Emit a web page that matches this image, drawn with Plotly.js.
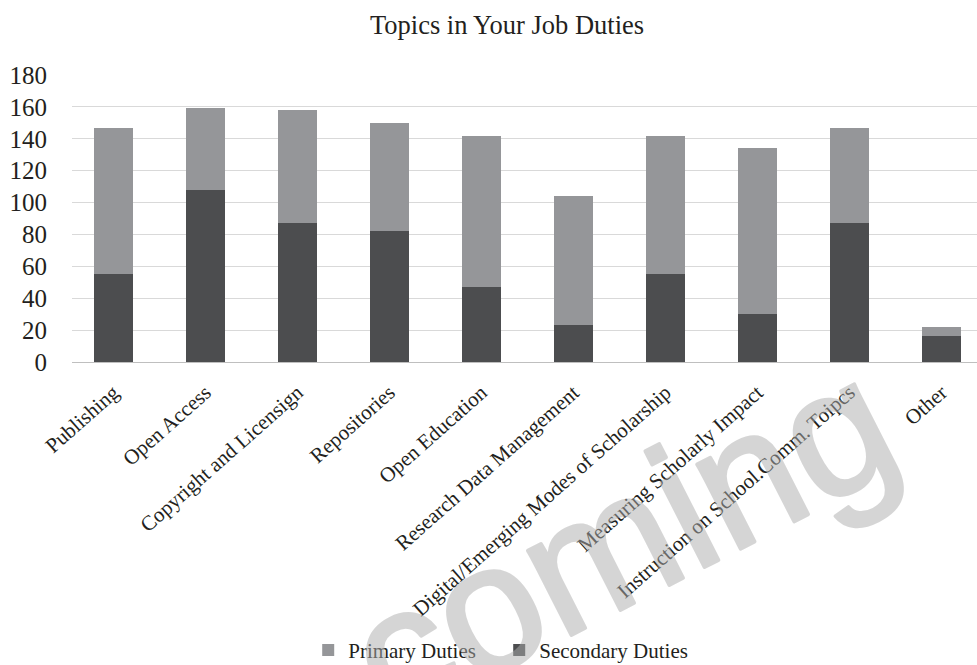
<!DOCTYPE html>
<html>
<head>
<meta charset="utf-8">
<script src="https://cdn.plot.ly/plotly-3.0.1.min.js"></script>
<style>
html,body{margin:0;padding:0;background:#fff;overflow:hidden}
#chart{width:977px;height:665px}
#chart g.annotation text{stroke:#adadad;stroke-width:3.5px;stroke-linejoin:round}
</style>
</head>
<body>
<div id="chart"></div>
<script>
const categories = ["Publishing","Open Access","Copyright and Licensign","Repositories","Open Education","Research Data Management","Digital/Emerging Modes of Scholarship","Measuring Scholarly Impact","Instruction on School.Comm. Toipcs","Other"];
const secondaryDuties = [55,108,87,82,47,23,55,30,87,16];
const primaryDuties = [92,51,71,68,95,81,87,104,60,6];
const yTicks = [0,20,40,60,80,100,120,140,160,180];
const chartTitle = "Topics in Your Job Duties";
const watermarkText = "coming";

const serif = "Liberation Serif, Times New Roman, serif";
const textColor = "#231f20";

const data = [
  {type:"bar", name:"Secondary Duties", x:categories, y:secondaryDuties, marker:{color:"#4c4d4f"}, hoverinfo:"skip"},
  {type:"bar", name:"Primary Duties", x:categories, y:primaryDuties, marker:{color:"#959699"}, hoverinfo:"skip"}
];

const layout = {
  width:977, height:665,
  margin:{l:72, r:0, t:75, b:302.7, pad:0, autoexpand:false},
  paper_bgcolor:"#fff", plot_bgcolor:"#fff",
  barmode:"stack", bargap:0.576,
  font:{family:serif, color:textColor},
  title:{text:chartTitle, font:{family:serif, size:26.5, color:textColor}, x:0.519, xanchor:"center", y:0.963, yanchor:"middle"},
  xaxis:{type:"category", range:[-0.451, 9.386], tickangle:-41.5, tickfont:{family:serif, size:21, color:textColor},
         showgrid:false, showline:true, linecolor:"#bfbfbf", linewidth:1, ticks:"", ticklabelstandoff:9, fixedrange:true},
  yaxis:{range:[0,180], tickvals:yTicks, ticktext:yTicks.map(String), tickfont:{family:serif, size:25, color:textColor},
         showgrid:true, gridcolor:"#d9d9d9", gridwidth:1, zeroline:false, showline:false, ticks:"", ticklabelstandoff:24, fixedrange:true},
  showlegend:true,
  legend:{orientation:"h", traceorder:"reversed", x:0.261, xanchor:"left", yref:"container", y:0.022, yanchor:"middle",
          font:{family:serif, size:21, color:textColor}, itemwidth:30, entrywidth:146, entrywidthmode:"pixels", bgcolor:"rgba(0,0,0,0)"},
  annotations:[{text:watermarkText, xref:"paper", yref:"paper", x:0.607, y:-0.62, xanchor:"center", yanchor:"middle",
                showarrow:false, textangle:-27, opacity:0.5, font:{family:"Liberation Sans, Arial, sans-serif", size:180, color:"#adadad"}}]
};

Plotly.newPlot("chart", data, layout, {staticPlot:true, displayModeBar:false});
</script>
</body>
</html>
